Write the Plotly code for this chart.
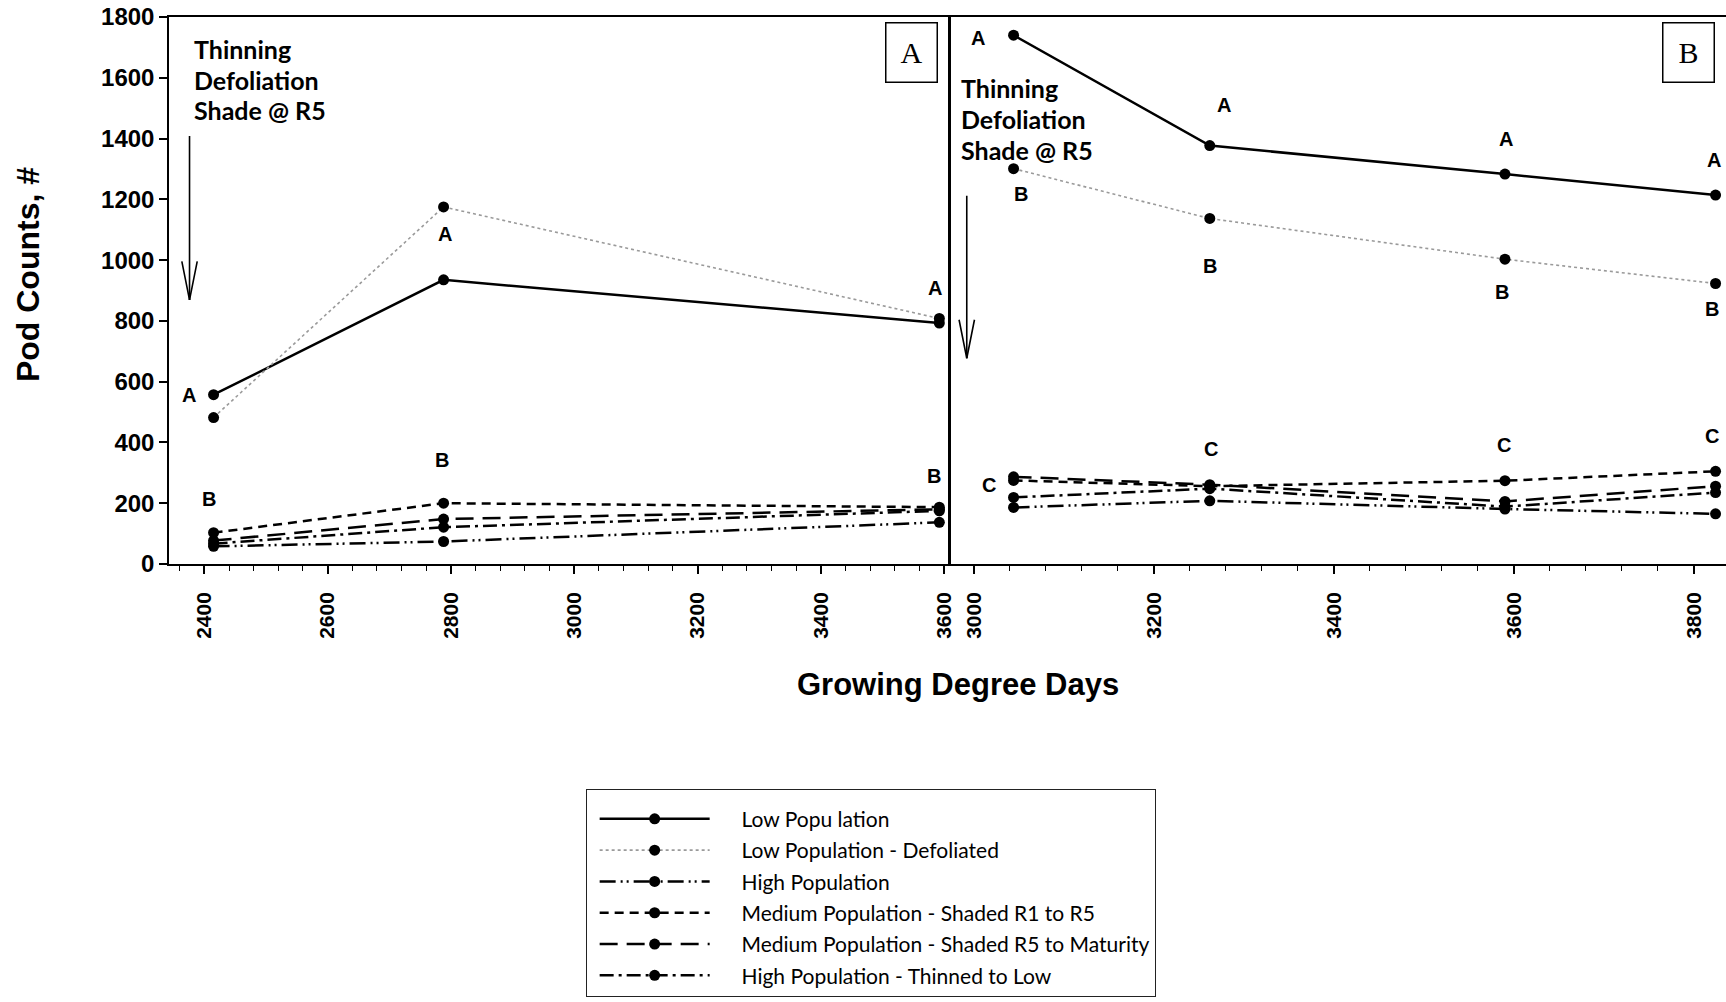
import plotly.graph_objects as go

# ---------------- data ----------------
series_names = [
    "Low Popu lation",
    "Low Population - Defoliated",
    "High Population",
    "Medium Population - Shaded R1 to R5",
    "Medium Population - Shaded R5 to Maturity",
    "High Population - Thinned to Low",
]

gdd_a = [2415, 2788, 3592]
gdd_b = [3044, 3262, 3590, 3824]

low_pop_a = [557, 935, 793]
low_pop_def_a = [482, 1175, 808]
high_pop_a = [58, 74, 137]
med_shaded_r1r5_a = [103, 200, 187]
med_shaded_r5m_a = [77, 148, 180]
high_thinned_a = [67, 121, 175]

low_pop_b = [1740, 1377, 1283, 1214]
low_pop_def_b = [1301, 1137, 1003, 923]
high_pop_b = [186, 208, 181, 165]
med_shaded_r1r5_b = [275, 256, 274, 305]
med_shaded_r5m_b = [287, 261, 206, 256]
high_thinned_b = [219, 248, 189, 235]

values_a = [low_pop_a, low_pop_def_a, high_pop_a, med_shaded_r1r5_a, med_shaded_r5m_a, high_thinned_a]
values_b = [low_pop_b, low_pop_def_b, high_pop_b, med_shaded_r1r5_b, med_shaded_r5m_b, high_thinned_b]

# significance letters (x, y, letter)
letters_a_x = [2375, 2790, 3585, 2408, 2785, 3583]
letters_a_y = [555, 1087, 909, 213, 341, 290]
letters_a_t = ["A", "A", "A", "B", "B", "B"]
letters_b_x = [3005, 3278, 3591, 3822, 3052, 3262, 3587, 3820, 3017, 3263, 3589, 3820]
letters_b_y = [1732, 1511, 1398, 1329, 1217, 982, 895, 840, 260, 377, 391, 420]
letters_b_t = ["A", "A", "A", "A", "B", "B", "B", "B", "C", "C", "C", "C"]

note_lines = ["Thinning", "Defoliation", "Shade @ R5"]

y_ticks = [0, 200, 400, 600, 800, 1000, 1200, 1400, 1600, 1800]

# ---------------- styles ----------------
line_styles = [
    dict(color="black", width=2.5, dash="solid"),
    dict(color="#9a9a9a", width=1.6, dash="dot"),
    dict(color="black", width=2.5, dash="16px,5px,2px,4px,2px,5px"),
    dict(color="black", width=2.5, dash="9px,6px"),
    dict(color="black", width=2.5, dash="18px,9px"),
    dict(color="black", width=2.5, dash="14px,5px,3px,5px"),
]

TICK_FONT = dict(family="Liberation Sans, Arial", size=21, color="black", weight="bold")
YTICK_FONT = dict(family="Liberation Sans, Arial", size=24, color="black", weight="bold")
LETTER_FONT = dict(family="Liberation Sans, Arial", size=20, color="black", weight="bold")
NOTE_FONT = dict(family="Lato, Carlito, Calibri", size=25, color="black", weight="bold")
LEGEND_PAD = "&nbsp;&nbsp;&nbsp;&nbsp;&nbsp;"

fig = go.Figure()

for i, name in enumerate(series_names):
    fig.add_trace(go.Scatter(
        x=gdd_a, y=values_a[i], name=LEGEND_PAD + name, mode="lines+markers",
        line=line_styles[i], marker=dict(color="black", size=11),
        legendgroup=name, showlegend=True, xaxis="x", yaxis="y",
    ))
for i, name in enumerate(series_names):
    fig.add_trace(go.Scatter(
        x=gdd_b, y=values_b[i], name=name, mode="lines+markers",
        line=line_styles[i], marker=dict(color="black", size=11),
        legendgroup=name, showlegend=False, xaxis="x2", yaxis="y2",
    ))

annotations = []
for x, y, t in zip(letters_a_x, letters_a_y, letters_a_t):
    annotations.append(dict(x=x, y=y, xref="x", yref="y", text=t, showarrow=False, font=LETTER_FONT))
for x, y, t in zip(letters_b_x, letters_b_y, letters_b_t):
    annotations.append(dict(x=x, y=y, xref="x2", yref="y2", text=t, showarrow=False, font=LETTER_FONT))

# treatment notes (one annotation per line for tight line spacing)
for x0, y0 in [(0.0145, 0.942), (0.5073, 0.870)]:
    for k, line in enumerate(note_lines):
        annotations.append(dict(x=x0, y=y0 - k * 0.0563, xref="paper", yref="paper", text=line,
                                showarrow=False, xanchor="left", yanchor="middle", align="left",
                                font=NOTE_FONT))

# arrows (shaft + open head as two barbs)
for xr, yr, hx, hy, tx, ty in [("x", "y", 2376, 869, 2376, 1413), ("x2", "y2", 2992, 677, 2992, 1217)]:
    annotations.append(dict(x=hx, y=hy, ax=tx, ay=ty, xref=xr, yref=yr, axref=xr, ayref=yr,
                            text="", showarrow=True, arrowhead=0, arrowwidth=1.6, arrowcolor="black"))
    for dx in (-8, 8):
        annotations.append(dict(x=hx, y=hy, ax=dx, ay=-40, xref=xr, yref=yr,
                                text="", showarrow=True, arrowhead=0, arrowwidth=1.6, arrowcolor="black",
                                standoff=0))

# panel labels
for lab, px in [("A", 0.4767), ("B", 0.9762)]:
    annotations.append(dict(x=px, y=0.935, xref="paper", yref="paper", text=lab, showarrow=False,
                            xanchor="center", yanchor="middle",
                            font=dict(family="Liberation Serif, Times New Roman", size=30, color="black"),
                            bordercolor="black", borderwidth=1.5, borderpad=0, width=50, height=58,
                            bgcolor="white"))

# axis titles
annotations.append(dict(x=0.5066, y=-0.2196, xref="paper", yref="paper", text="Growing Degree Days",
                        showarrow=False, xanchor="center", yanchor="middle",
                        font=dict(family="Liberation Sans, Arial", size=31, color="black", weight="bold")))
annotations.append(dict(x=-0.0909, y=0.529, xref="paper", yref="paper", text="Pod Counts, #",
                        showarrow=False, textangle=-90, xanchor="center", yanchor="middle",
                        font=dict(family="Liberation Sans, Arial", size=32, color="black", weight="bold")))

common_x = dict(showline=True, linecolor="black", linewidth=1.5, ticks="outside", ticklen=8,
                tickwidth=1.5, tickcolor="black", dtick=200, tickangle=-90, tickfont=TICK_FONT,
                showgrid=False, zeroline=False, ticklabelstandoff=10, automargin=False,
                minor=dict(ticks="outside", ticklen=5, tickwidth=1.2, tickcolor="black", dtick=40,
                           showgrid=False))

fig.update_layout(
    xaxis=dict(domain=[0, 0.5005], range=[2342.7, 3606.5], tick0=2400, mirror=True, anchor="y",
               **common_x),
    xaxis2=dict(domain=[0.5022, 1.0], range=[2974.4, 3835.6], tick0=3000, mirror=True, anchor="y2",
                **common_x),
    yaxis=dict(range=[0, 1800], tickvals=y_ticks, showline=True, linecolor="black", linewidth=1.5,
               ticks="outside", ticklen=8, tickwidth=1.5, tickcolor="black", mirror=True,
               tickfont=YTICK_FONT, showgrid=False, zeroline=False, anchor="x", automargin=False),
    yaxis2=dict(range=[0, 1800], showline=True, linecolor="black", linewidth=1.5, mirror=False,
                showticklabels=False, showgrid=False, zeroline=False, anchor="x2", automargin=False),
    annotations=annotations,
    plot_bgcolor="white",
    paper_bgcolor="white",
    margin=dict(l=169, r=0, t=17, b=438, autoexpand=False),
    showlegend=True,
    legend=dict(x=0.2676, y=-0.4106, xanchor="left", yanchor="top", bordercolor="#222",
                borderwidth=1, bgcolor="white", itemwidth=110, tracegroupgap=1, indentation=8,
                title=dict(text="&nbsp;", font=dict(size=7)),
                font=dict(family="Lato", size=21, color="black")),
)

post = (
    "document.documentElement.style.margin='0px';"
    "document.body.style.margin='0px';"
    "document.documentElement.style.overflow='hidden';"
    "var gd=document.getElementById('{plot_id}');"
    "gd.style.width='100vw';gd.style.height='100vh';"
    "Plotly.Plots.resize(gd);"
)

fig.write_html("out.html", config={"displayModeBar": False, "responsive": True}, post_script=post)
